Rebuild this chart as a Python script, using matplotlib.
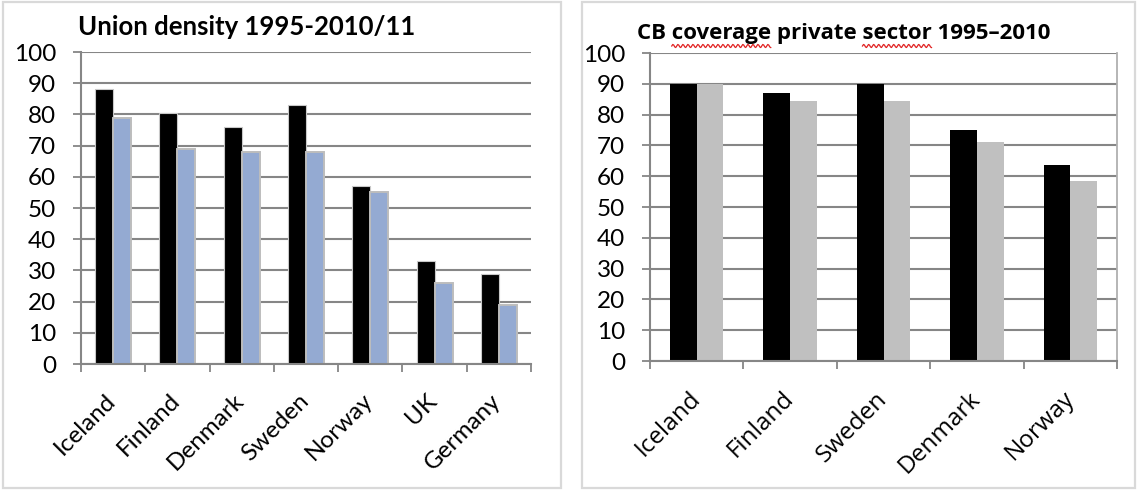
import numpy as np
import matplotlib
matplotlib.use("Agg")
import matplotlib.pyplot as plt
from matplotlib.patches import Rectangle
from matplotlib.lines import Line2D

# Union density (per cent), 1995 vs 2010/11
union_countries = ["Iceland", "Finland", "Denmark", "Sweden", "Norway", "UK", "Germany"]
union_1995 = [88, 80.5, 76, 83, 57, 33, 29]
union_2010 = [79, 69, 68, 68, 55, 26, 19]

# Collective bargaining coverage in the private sector (per cent), 1995 vs 2010
cb_countries = ["Iceland", "Finland", "Sweden", "Denmark", "Norway"]
cb_1995 = [90, 87, 90, 75, 63.5]
cb_2010 = [90, 84.5, 84.5, 71, 58.5]

y_ticks = list(range(0, 101, 10))

W, H = 1138, 490
fig = plt.figure(figsize=(W / 100, H / 100), dpi=100)
fig.patch.set_facecolor("white")

GRID = "#868686"
FRAME = "#d9d9d9"
TICK_FS = 17.5

# panel frames
for x0, x1 in [(3, 561), (582, 1135)]:
    fig.patches.append(Rectangle((x0 / W, 2 / H), (x1 - x0) / W, (H - 4) / H,
                                 transform=fig.transFigure, fill=False,
                                 edgecolor=FRAME, linewidth=1.6))


def style_axes(ax, ncat, labels, label_font, right_spine):
    ax.set_ylim(0, 100)
    ax.set_xlim(-0.5, ncat - 0.5)
    ax.set_yticks(y_ticks)
    ax.set_yticklabels([str(t) for t in y_ticks], fontsize=TICK_FS, family="Lato")
    ax.yaxis.grid(True, color=GRID, linewidth=1.5)
    ax.set_axisbelow(True)
    ax.set_xticks(np.arange(-0.5, ncat, 1.0))
    ax.set_xticklabels([])
    ax.tick_params(axis="both", direction="out", length=6, width=1.3, color=GRID, pad=12)
    for s in ["left", "bottom"]:
        ax.spines[s].set_color(GRID)
        ax.spines[s].set_linewidth(1.5)
    ax.spines["top"].set_visible(False)
    ax.spines["right"].set_visible(right_spine)
    ax.spines["right"].set_color("#b0b0b0")
    ax.spines["right"].set_linewidth(1.3)
    for i, lab in enumerate(labels):
        ax.annotate(lab, xy=(i, 0), xycoords=("data", "axes fraction"),
                    xytext=(-6, -18.5), textcoords="offset points",
                    rotation=45, ha="right", va="top", rotation_mode="anchor",
                    fontsize=TICK_FS, family=label_font)


# left panel
ax1 = fig.add_axes([81 / W, (H - 364) / H, 450 / W, 312 / H])
x1 = np.arange(len(union_countries))
bw1 = 0.28
ax1.bar(x1 - bw1 / 2, union_1995, bw1, color="black", edgecolor="#c8c8c8", linewidth=0.8)
ax1.bar(x1 + bw1 / 2, union_2010, bw1, color="#94aad2", edgecolor="#bdbdbd", linewidth=1.4)
style_axes(ax1, len(union_countries), union_countries, "Lato", False)
fig.text(78 / W, 1 - 35 / H, "Union density 1995-2010/11", fontsize=18.5,
         fontweight="bold", family="Lato", ha="left", va="baseline")

# right panel
ax2 = fig.add_axes([650 / W, (H - 361) / H, 467 / W, 308 / H])
x2 = np.arange(len(cb_countries))
bw2 = 0.285
ax2.bar(x2 - bw2 / 2, cb_1995, bw2, color="black", linewidth=0)
ax2.bar(x2 + bw2 / 2, cb_2010, bw2, color="#c0c0c0", linewidth=0)
style_axes(ax2, len(cb_countries), cb_countries, "Open Sans", True)

TITLE2_FS = 16
title2 = "CB coverage private sector 1995\u20132010"
t2 = fig.text(637 / W, 1 - 39 / H, title2, fontsize=TITLE2_FS, fontweight="bold",
              family="Open Sans", ha="left", va="baseline")

# red wavy underline beneath two words of the right title
fig.canvas.draw()
renderer = fig.canvas.get_renderer()


def prefix_width(s):
    tmp = fig.text(0, 0, s, fontsize=TITLE2_FS, fontweight="bold", family="Open Sans")
    w = tmp.get_window_extent(renderer).width
    tmp.remove()
    return w


x_start = t2.get_window_extent(renderer).x0
for word_start, word in [("CB ", "coverage"), ("CB coverage private ", "sector")]:
    a = x_start + prefix_width(word_start)
    b = x_start + prefix_width(word_start + word)
    xs = np.arange(a, b + 0.1, 1.0)
    ys = (H - 46) + 1.6 * np.sin((xs - a) * np.pi / 2.5)
    fig.lines.append(Line2D(xs / W, ys / H, transform=fig.transFigure,
                            color="#e02020", linewidth=0.9))

fig.savefig("out.png", dpi=100)
